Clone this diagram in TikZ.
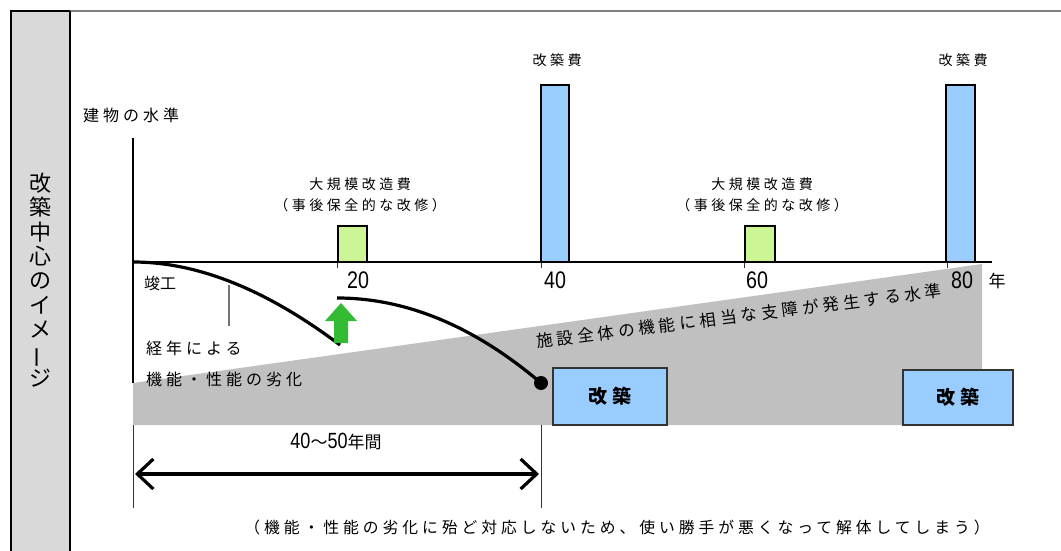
\documentclass[tikz,border=0pt]{standalone}
\usepackage{fontspec}
\newfontfamily\jp[LetterSpace=25]{Noto Sans CJK JP}
\newfontfamily\jpn{Noto Sans CJK JP}
\newfontfamily\num[FakeStretch=0.82]{Liberation Sans}
\usetikzlibrary{arrows.meta}
\definecolor{sidegray}{HTML}{D9D9D9}
\definecolor{bandgray}{HTML}{C0C0C0}
\definecolor{barblue}{HTML}{99CCFF}
\definecolor{boxgreen}{HTML}{CCF595}
\definecolor{arrowgreen}{HTML}{33BB33}
\tikzset{
  jptext/.style={inner sep=0pt, font=\jp\fontsize{16}{18}\selectfont},
  smalljp/.style={inner sep=0pt, font=\jp\fontsize{14}{16}\selectfont},
  numtext/.style={inner sep=0pt, font=\num\fontsize{24}{26}\selectfont},
  costbar/.style={draw=black, line width=1.6pt, fill=barblue},
  greenbox/.style={draw=black, line width=1.6pt, fill=boxgreen},
  kaichiku/.style={draw=black!80, line width=1.2pt, fill=barblue, font=\jp\bfseries\fontsize{19}{21}\selectfont},
  curve/.style={line width=3.2pt, black},
  axis/.style={line width=2.2pt, black},
  thin/.style={line width=1pt, black!80},
}
\begin{document}
\begin{tikzpicture}[x=1pt,y=-1pt]
\useasboundingbox (0,0) rectangle (1061,551);
% frame and sidebar
\fill[white] (0,0) rectangle (1061,551);
\fill[sidegray] (11,11) rectangle (70,551);
\draw[black!50, line width=2pt] (70,11) -- (1061,11);
\draw[black, line width=2pt] (11,551) -- (11,11) -- (70,11);
\draw[black, line width=1.4pt] (70,11) -- (70,551);
\node[inner sep=0pt, align=center, font=\jpn\fontsize{22}{24.4}\selectfont] (side) at (41,280)
  {改\\築\\中\\心\\の\\イ\\メ\\\rotatebox[origin=c]{90}{ー}\\ジ};

% gray band
\fill[bandgray] (133,383) -- (982,264) -- (982,425) -- (133,425) -- cycle;

% axes
\coordinate (origin) at (133,262);
\coordinate (ytop) at (133,138);
\coordinate (xend) at (992,262);
\coordinate (ybandtop) at (133,383);
\coordinate (ybot) at (133,508);
\draw[axis] (ytop) -- (ybandtop);
\draw[thin] (133,425) -- (ybot);
\draw[axis] (origin) -- (xend);
\foreach \x in {337,541,744,947} \draw[thin] (\x,262) -- (\x,268);
\coordinate (t40top) at (541,425);
\coordinate (t40bot) at (541,508);
\draw[thin] (t40top) -- (t40bot);

% labels on axes
\node[jptext, anchor=west] (ylabel) at (83,115) {建物の水準};
\node[inner sep=0pt, font=\jpn\fontsize{16}{18}\selectfont] (shunko) at (160,283) {竣工};
\node[numtext] (n20) at (358,280) {20};
\node[numtext] (n40) at (555,280) {40};
\node[numtext] (n60) at (757,280) {60};
\node[numtext] (n80) at (962,280) {80};
\node[inner sep=0pt, font=\jpn\fontsize{17}{18}\selectfont] (nen) at (997,281) {年};

% cost bars
\draw[costbar] (541,85) rectangle (569,262);
\draw[costbar] (946,85) rectangle (975,262);
\node[smalljp] (c40) at (557,60) {改築費};
\node[smalljp] (c80) at (963,60) {改築費};
\draw[greenbox] (338,226) rectangle (367,262);
\draw[greenbox] (745,226) rectangle (775,262);
\node[smalljp] (g20a) at (360,184) {大規模改造費};
\node[smalljp] (g20b) at (360,205) {（事後保全的な改修）};
\node[smalljp] (g60a) at (762,184) {大規模改造費};
\node[smalljp] (g60b) at (762,205) {（事後保全的な改修）};

% deterioration
\draw[black!55, line width=2pt] (229,285) -- (229,326);
\node[jptext, anchor=west] (kei1) at (146,348) {経年による};
\node[jptext, anchor=west] (kei2) at (146,379) {機能・性能の劣化};
\node[inner sep=0pt, font=\jp\fontsize{16.5}{18}\selectfont, rotate=7.2] (level) at (739,316) {施設全体の機能に相当な支障が発生する水準};

% curves
\coordinate (c1end) at (340,345);
\coordinate (c2start) at (337,298);
\coordinate (dot) at (541,383);
\draw[curve] (origin) .. controls (198,262) and (267,290) .. (c1end);
\draw[curve] (c2start) .. controls (406,298) and (474,326) .. (dot);
\fill[black] (dot) circle (7);
% green up arrow
\fill[arrowgreen] (334,343) -- (348,343) -- (348,321) -- (357,321) -- (341,303) -- (325,321) -- (334,321) -- cycle;

% kaichiku boxes
\node[kaichiku, minimum width=114pt, minimum height=57pt] (k1) at (610,396.5) {改築};
\node[kaichiku, minimum width=110pt, minimum height=55pt] (k2) at (958,397.5) {改築};

% period arrow
\coordinate (pa) at (135,474);
\coordinate (pb) at (539,474);
\draw[line width=3.2pt, {Straight Barb[length=16pt,width=30pt]}-{Straight Barb[length=16pt,width=30pt]}] (pa) -- (pb);
\node[inner sep=0pt] (period) at (336,442) {\num\fontsize{22}{24}\selectfont 40\jpn\fontsize{17}{18}\selectfont ～\num\fontsize{22}{24}\selectfont 50\jpn\fontsize{17}{18}\selectfont 年間};

\node[inner sep=0pt, font=\jp\fontsize{15.8}{17}\selectfont] (note) at (617,527) {（機能・性能の劣化に殆ど対応しないため、使い勝手が悪くなって解体してしまう）};
\end{tikzpicture}
\end{document}
